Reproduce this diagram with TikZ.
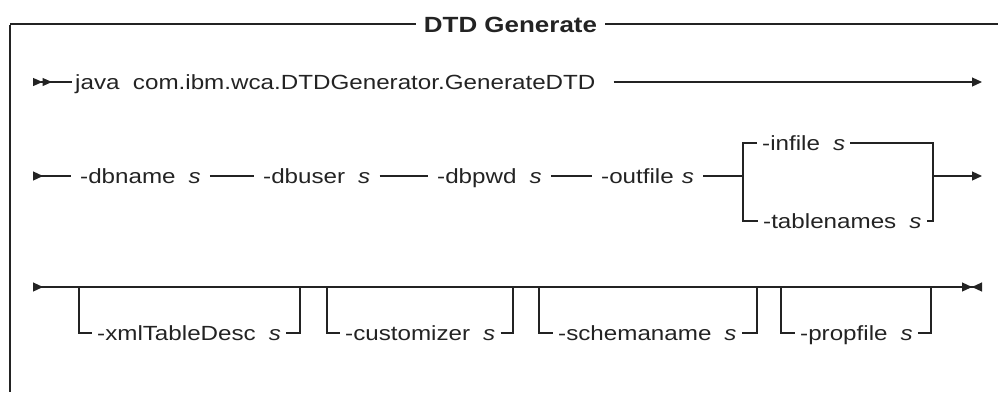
\documentclass[tikz,border=0pt]{standalone}
\usepackage{fontspec}
\setmainfont{Liberation Sans}[FakeStretch=1.18]
\usepackage{tikz}
\usetikzlibrary{arrows.meta}
\definecolor{railink}{RGB}{35,35,35}
\tikzset{
  rail/.style={line width=1.2pt, draw=railink},
  railstart/.style={rail, {Triangle[reversed,length=10pt,width=9pt]}-},
  railstarttwo/.style={rail,
    {Triangle[reversed,length=9.5pt,width=8pt]Triangle[reversed,length=9.5pt,width=8pt]}-},
  railend/.style={rail, -{Triangle[length=10pt,width=9pt]}},
  railstartstop/.style={rail,
    {Triangle[reversed,length=10pt,width=9pt]}-{Triangle[length=10pt,width=9pt]Triangle[reversed,length=10pt,width=9pt]}},
  framerule/.style={line width=1.4pt, draw=railink},
  kwbox/.style={
    anchor=west,
    inner xsep=9pt,
    inner ysep=0pt,
    text height=14.4pt,
    text depth=0pt,
    text=railink,
    font=\fontsize{20.5}{24}\selectfont
  },
  optbox/.style={kwbox, inner xsep=5pt},
  titlebox/.style={
    inner xsep=8pt,
    inner ysep=0pt,
    text height=16pt,
    text depth=0pt,
    text=railink,
    font=\fontsize{22}{26}\selectfont\bfseries
  }
}
\begin{document}
\begin{tikzpicture}[x=1pt,y=-1pt]
  \useasboundingbox (0,0) rectangle (998,392);

  % frame and title
  \node[titlebox] (title) at (510.5,24) {DTD Generate};
  \coordinate (ftl) at (10,24);
  \coordinate (fbl) at (10,392);
  \coordinate (ftr) at (998,24);
  \draw[framerule] (title.west) -- (ftl);
  \draw[framerule] (title.east) -- (ftr);
  \draw[framerule, line width=2.4pt] ([yshift=-0.7pt]ftl) -- (fbl);

  % first line
  \coordinate (r1s) at (33,82);
  \node[kwbox, inner xsep=3pt]
    (java) at (72,82) {java\ \ com.ibm.wca.DTDGenerator.GenerateDTD};
  \coordinate (r1e) at (982,82);
  \draw[railstarttwo] (r1s) -- (java);
  \draw[railend, shorten <=15pt] (java) -- (r1e);

  % second line
  \coordinate (r2s) at (33,176);
  \node[kwbox] (dbname) at (71,176) {-dbname\hspace{13pt}\textit{s}};
  \node[kwbox] (dbuser) at (254,176) {-dbuser\hspace{13pt}\textit{s}};
  \node[kwbox] (dbpwd) at (428,176) {-dbpwd\hspace{13pt}\textit{s}};
  \node[kwbox] (outfile) at (592,176) {-outfile\hspace{8pt}\textit{s}};
  \coordinate (jl) at (743,176);
  \coordinate (jr) at (933,176);
  \coordinate (r2e) at (982,176);
  \node[optbox] (infile) at (757,143) {-infile\hspace{13pt}\textit{s}};
  \node[optbox] (tablenames) at (758,221) {-tablenames\hspace{13pt}\textit{s}};

  \draw[railstart] (r2s) -- (dbname);
  \draw[rail] (dbname) -- (dbuser);
  \draw[rail] (dbuser) -- (dbpwd);
  \draw[rail] (dbpwd) -- (outfile);
  \draw[rail] (outfile) -- (jl);
  \draw[rail] (infile.west) -| (jl) |- (tablenames.west);
  \draw[rail] (infile.east) -| (jr) |- (tablenames.east);
  \draw[railend] (jr) -- (r2e);

  % third line
  \coordinate (r3s) at (33,287);
  \coordinate (r3e) at (982,287);
  \draw[railstartstop] (r3s) -- (r3e);

  \coordinate (b1l) at (79,287);
  \coordinate (b1r) at (300,287);
  \node[optbox] (xmldesc) at (92,333) {-xmlTableDesc\hspace{13pt}\textit{s}};
  \draw[rail] (b1l) |- (xmldesc.west);
  \draw[rail] (xmldesc.east) -| (b1r);

  \coordinate (b2l) at (327,287);
  \coordinate (b2r) at (513,287);
  \node[optbox] (customizer) at (340,333) {-customizer\hspace{13pt}\textit{s}};
  \draw[rail] (b2l) |- (customizer.west);
  \draw[rail] (customizer.east) -| (b2r);

  \coordinate (b3l) at (539,287);
  \coordinate (b3r) at (757,287);
  \node[optbox] (schemaname) at (553,333) {-schemaname\hspace{13pt}\textit{s}};
  \draw[rail] (b3l) |- (schemaname.west);
  \draw[rail] (schemaname.east) -| (b3r);

  \coordinate (b4l) at (781,287);
  \coordinate (b4r) at (931,287);
  \node[optbox] (propfile) at (795,333) {-propfile\hspace{13pt}\textit{s}};
  \draw[rail] (b4l) |- (propfile.west);
  \draw[rail] (propfile.east) -| (b4r);
\end{tikzpicture}
\end{document}
